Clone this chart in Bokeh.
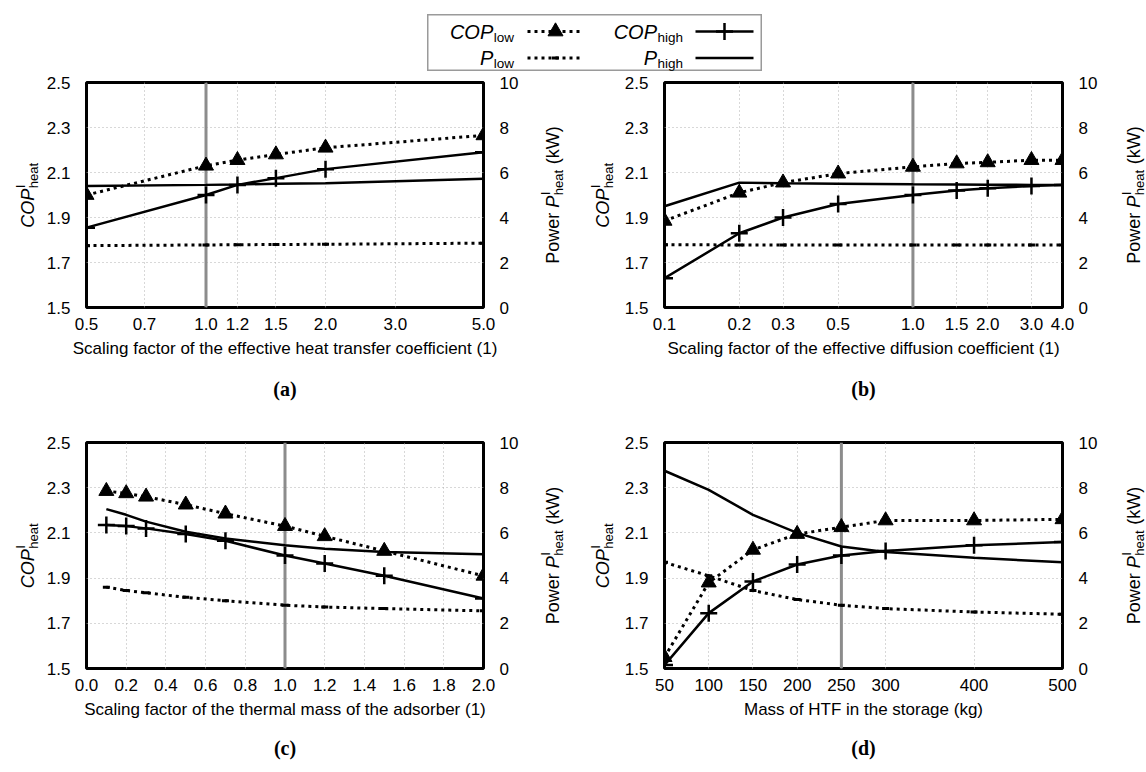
import math
from bokeh.plotting import figure
from bokeh.models import (Range1d, LinearAxis, FixedTicker, PrintfTickFormatter,
                          Span, Title, Spacer)
from bokeh.layouts import row, column
from bokeh.core.properties import value
from bokeh.embed import file_html
from bokeh.resources import INLINE

FONT = "Liberation Sans"
SERIF = "Liberation Serif"

# ---------------- data ----------------
a_x = [0.5, 1.0, 1.2, 1.5, 2.0, 5.0]
a_cop_low = [2.00, 2.13, 2.155, 2.18, 2.21, 2.265]
a_cop_high = [1.855, 2.00, 2.045, 2.075, 2.115, 2.19]
a_p_low = [2.75, 2.78, 2.79, 2.80, 2.81, 2.86]
a_p_high = [5.40, 5.45, 5.47, 5.50, 5.52, 5.72]

b_x = [0.1, 0.2, 0.3, 0.5, 1.0, 1.5, 2.0, 3.0, 4.0]
b_cop_low = [1.885, 2.01, 2.055, 2.095, 2.125, 2.14, 2.145, 2.155, 2.155]
b_cop_high = [1.63, 1.83, 1.90, 1.96, 2.00, 2.02, 2.03, 2.04, 2.045]
b_p_low = [2.79, 2.78, 2.78, 2.78, 2.78, 2.78, 2.78, 2.78, 2.78]
b_p_high = [4.50, 5.55, 5.52, 5.50, 5.48, 5.47, 5.46, 5.45, 5.45]

c_x = [0.1, 0.2, 0.3, 0.5, 0.7, 1.0, 1.2, 1.5, 2.0]
c_cop_low = [2.285, 2.275, 2.26, 2.225, 2.185, 2.13, 2.085, 2.02, 1.91]
c_cop_high = [2.135, 2.13, 2.12, 2.095, 2.065, 2.00, 1.965, 1.91, 1.81]
c_p_low = [3.60, 3.45, 3.35, 3.15, 3.00, 2.80, 2.72, 2.65, 2.55]
c_p_high = [7.05, 6.80, 6.50, 6.05, 5.75, 5.45, 5.30, 5.15, 5.05]

d_x = [50, 100, 150, 200, 250, 300, 400, 500]
d_cop_low = [1.55, 1.88, 2.025, 2.095, 2.125, 2.155, 2.155, 2.16]
d_cop_high = [1.515, 1.745, 1.885, 1.96, 2.00, 2.02, 2.045, 2.06]
d_p_low = [4.70, 4.10, 3.45, 3.05, 2.80, 2.65, 2.50, 2.40]
d_p_high = [8.75, 7.90, 6.80, 6.00, 5.40, 5.15, 4.90, 4.70]

a_ticks = [0.5, 0.7, 1.0, 1.2, 1.5, 2.0, 3.0, 5.0]
b_ticks = [0.1, 0.2, 0.3, 0.5, 1.0, 1.5, 2.0, 3.0, 4.0]
c_ticks = [0.0, 0.2, 0.4, 0.6, 0.8, 1.0, 1.2, 1.4, 1.6, 1.8, 2.0]
d_ticks = [50, 100, 150, 200, 250, 300, 400, 500]
cop_ticks = [1.5, 1.7, 1.9, 2.1, 2.3, 2.5]
p_ticks = [0, 2, 4, 6, 8, 10]

a_label = "Scaling factor of the effective heat transfer coefficient (1)"
b_label = "Scaling factor of the effective diffusion coefficient (1)"
c_label = "Scaling factor of the thermal mass of the adsorber (1)"
d_label = "Mass of HTF in the storage (kg)"

# --------------- helpers ---------------
ADV = {" ": 278, "(": 333, ")": 333, "C": 722, "O": 778, "P": 667, "I": 278,
       "W": 944, "a": 556, "e": 556, "g": 556, "h": 556, "i": 222, "k": 500,
       "l": 222, "o": 556, "r": 333, "t": 278, "w": 722}


def tw(s, size):
    return sum(ADV.get(ch, 556) for ch in s) / 1000.0 * size


MID = 0.3465   # distance (em) from baseline up to the "middle" anchor
MAIN = 18
SMALL = 13

# --------------- layout constants (page = canvas, no body margin) ---------------
W_LT, W_A, W_MT, W_B, W_RT = 43, 478, 100, 479, 46
H_TOP, H_BOT = 360, 341
TOP_B, FH_TOP, FH_BOT = 11, 225, 226
CAP_TOP, CAP_BOT = 30, 27


def make_panel(width, height, top, frame_h, xr, log, xticks, xfmt, xs, cl, ch, pl, ph,
               ref, xlabel, caption, cap_standoff):
    kw = {"x_axis_type": "log"} if log else {}
    p = figure(width=width, height=height, x_range=Range1d(*xr), y_range=Range1d(1.5, 2.5),
               output_backend="svg", toolbar_location=None,
               min_border_left=40, min_border_right=30, min_border_top=top,
               min_border_bottom=height - top - frame_h, **kw)
    p.extra_y_ranges = {"pw": Range1d(0, 10)}
    rax = LinearAxis(y_range_name="pw", ticker=FixedTicker(ticks=p_ticks),
                     formatter=PrintfTickFormatter(format="%d"))
    p.add_layout(rax, "right")
    xa = p.below[0]
    xa.ticker = FixedTicker(ticks=xticks)
    xa.formatter = PrintfTickFormatter(format=xfmt)
    xa.axis_label = xlabel
    xa.axis_label_text_font = FONT
    xa.axis_label_text_font_style = "normal"
    xa.axis_label_text_font_size = "17px"
    xa.axis_label_text_color = "black"
    xa.axis_label_standoff = 6
    xa.major_label_standoff = 4
    ya = p.left[0]
    ya.ticker = FixedTicker(ticks=cop_ticks)
    ya.formatter = PrintfTickFormatter(format="%.1f")
    ya.major_label_standoff = 10
    rax.major_label_standoff = 10
    for ax in (xa, ya, rax):
        ax.axis_line_color = None
        ax.major_tick_line_color = None
        ax.minor_tick_line_color = None
        ax.major_label_text_font = FONT
        ax.major_label_text_font_size = "17px"
        ax.major_label_text_color = "black"
    p.xgrid.ticker = FixedTicker(ticks=xticks)
    p.ygrid.ticker = FixedTicker(ticks=cop_ticks)
    p.grid.grid_line_color = "#b0b0b0"
    p.grid.grid_line_dash = "1 3"
    p.grid.grid_line_width = 1
    p.outline_line_color = "black"
    p.outline_line_width = 3
    p.add_layout(Span(location=ref, dimension="height", line_color="#8c8c8c",
                      line_width=3, level="underlay"))
    # P curves (right axis)
    p.line(xs, pl, y_range_name="pw", line_color="black", line_width=3, line_dash="3 4")
    p.scatter(xs, pl, y_range_name="pw", marker="dash", size=7, line_color="black", line_width=3)
    p.line(xs, ph, y_range_name="pw", line_color="black", line_width=2.5)
    # COP curves (left axis)
    p.line(xs, cl, line_color="black", line_width=3, line_dash="3 4")
    p.scatter(xs, cl, marker="triangle", size=15, fill_color="black", line_color="black")
    p.line(xs, ch, line_color="black", line_width=2.5)
    p.scatter(xs, ch, marker="cross", size=17, line_color="black", line_width=2.5)
    p.add_layout(Title(text=caption, align="center", text_font=SERIF, text_font_style="bold",
                       text_font_size="20px", text_color="black", standoff=cap_standoff),
                 "below")
    return p


def label_fig(w, h, top, frame_h):
    f = figure(width=w, height=h, x_range=Range1d(0, w), y_range=Range1d(0, frame_h),
               min_border_left=0, min_border_right=0, min_border_top=top,
               min_border_bottom=h - top - frame_h,
               toolbar_location=None, output_backend="svg",
               x_axis_location=None, y_axis_location=None)
    f.grid.visible = False
    f.outline_line_color = None
    return f


def rtext(f, xb, y, txt, size, style="normal"):
    # xb = baseline x of a text rotated by 90 degrees (reads bottom to top)
    f.text(x=[xb - MID * size], y=[y], text=[txt], angle=math.pi / 2,
           text_font=value(FONT), text_font_style=style, text_font_size=f"{size}px",
           text_color="black", text_align="left", text_baseline="middle")


def rot_title(f, xb, yc, segs):
    def seg_len(s):
        if "t" in s:
            return s.get("pre", 0) + tw(s["t"], MAIN)
        return max(tw(s["sub"], SMALL), tw(s["sup"], SMALL)) + 1

    total = sum(seg_len(s) for s in segs)
    y = yc - total / 2.0
    for s in segs:
        if "t" in s:
            rtext(f, xb, y + s.get("pre", 0), s["t"], MAIN, s.get("style", "normal"))
        else:
            rtext(f, xb + 4.5, y + 0.5, s["sub"], SMALL)
            rtext(f, xb - 8.5, y + 0.5, s["sup"], SMALL)
        y += seg_len(s)


COP_SEGS = [{"t": "COP", "style": "italic"}, {"sub": "heat", "sup": "I"}]
POW_SEGS = [{"t": "Power"}, {"t": "P", "style": "italic", "pre": tw(" ", MAIN)},
            {"sub": "heat", "sup": "I"}, {"t": "(kW)", "pre": tw(" ", MAIN)}]

fa = make_panel(W_A, H_TOP, TOP_B, FH_TOP, (0.5, 5.0), True, a_ticks, "%.1f", a_x,
                a_cop_low, a_cop_high, a_p_low, a_p_high, 1.0, a_label, "(a)", CAP_TOP)
fb = make_panel(W_B, H_TOP, TOP_B, FH_TOP, (0.1, 4.0), True, b_ticks, "%.1f", b_x,
                b_cop_low, b_cop_high, b_p_low, b_p_high, 1.0, b_label, "(b)", CAP_TOP)
fc = make_panel(W_A, H_BOT, TOP_B, FH_BOT, (0.0, 2.0), False, c_ticks, "%.1f", c_x,
                c_cop_low, c_cop_high, c_p_low, c_p_high, 1.0, c_label, "(c)", CAP_BOT)
fd = make_panel(W_B, H_BOT, TOP_B, FH_BOT, (50, 500), False, d_ticks, "%d", d_x,
                d_cop_low, d_cop_high, d_p_low, d_p_high, 250, d_label, "(d)", CAP_BOT)


def title_row(h, frame_h):
    yc = frame_h / 2.0
    lt = label_fig(W_LT, h, TOP_B, frame_h)
    rot_title(lt, 33.5, yc, COP_SEGS)
    mt = label_fig(W_MT, h, TOP_B, frame_h)
    rot_title(mt, 37.5, yc, POW_SEGS)
    rot_title(mt, 87.5, yc, COP_SEGS)
    rt = label_fig(W_RT, h, TOP_B, frame_h)
    rot_title(rt, 39.5, yc, POW_SEGS)
    return lt, mt, rt


lt1, mt1, rt1 = title_row(H_TOP, FH_TOP)
lt2, mt2, rt2 = title_row(H_BOT, FH_BOT)

# --------------- legend ---------------
LX, LY, LW, LH = 427, 14, 335, 57
leg = figure(width=LW, height=LH, x_range=Range1d(0, LW), y_range=Range1d(0, LH),
             min_border=0, toolbar_location=None, output_backend="svg",
             x_axis_location=None, y_axis_location=None)
leg.grid.visible = False
leg.outline_line_color = "#9a9a9a"
leg.outline_line_width = 2
LFS, LSS = 20, 13.5
rows_base = [LH - 24.0, LH - 50.5]     # baselines of the main text (y up)
text_right = [86, 255]
samp = [(100, 156), (268, 326)]
entries = [
    (0, 0, "COP", "low", "dot", "triangle"),
    (0, 1, "COP", "high", "solid", "cross"),
    (1, 0, "P", "low", "dot", "dash"),
    (1, 1, "P", "high", "solid", None),
]
for r, c, main, sub, style, mk in entries:
    yb = rows_base[r]
    wm = tw(main, LFS)
    ws = tw(sub, LSS)
    x0 = text_right[c] - wm - ws
    leg.text(x=[x0], y=[yb + MID * LFS], text=[main], text_font=value(FONT),
             text_font_style="italic", text_font_size=f"{LFS}px", text_color="black",
             text_align="left", text_baseline="middle")
    leg.text(x=[x0 + wm + 0.5], y=[yb - 3.5 + MID * LSS], text=[sub], text_font=value(FONT),
             text_font_size=f"{LSS}px", text_color="black", text_align="left",
             text_baseline="middle")
    sx0, sx1 = samp[c]
    ym = yb + 7
    if style == "dot":
        leg.line([sx0, sx1], [ym, ym], line_color="black", line_width=3, line_dash="3 4")
    else:
        leg.line([sx0, sx1], [ym, ym], line_color="black", line_width=2.5)
    if mk == "triangle":
        leg.scatter([(sx0 + sx1) / 2], [ym], marker="triangle", size=15,
                    fill_color="black", line_color="black")
    elif mk == "cross":
        leg.scatter([(sx0 + sx1) / 2], [ym], marker="cross", size=17,
                    line_color="black", line_width=2.5)
    elif mk == "dash":
        leg.scatter([(sx0 + sx1) / 2], [ym], marker="dash", size=7,
                    line_color="black", line_width=3)

layout = column(
    Spacer(width=W_LT + W_A + W_MT + W_B + W_RT, height=LY),
    row(Spacer(width=LX, height=LH), leg),
    row(lt1, fa, mt1, fb, rt1),
    row(lt2, fc, mt2, fd, rt2),
)

open("out.html", "w").write(file_html(layout, INLINE))
